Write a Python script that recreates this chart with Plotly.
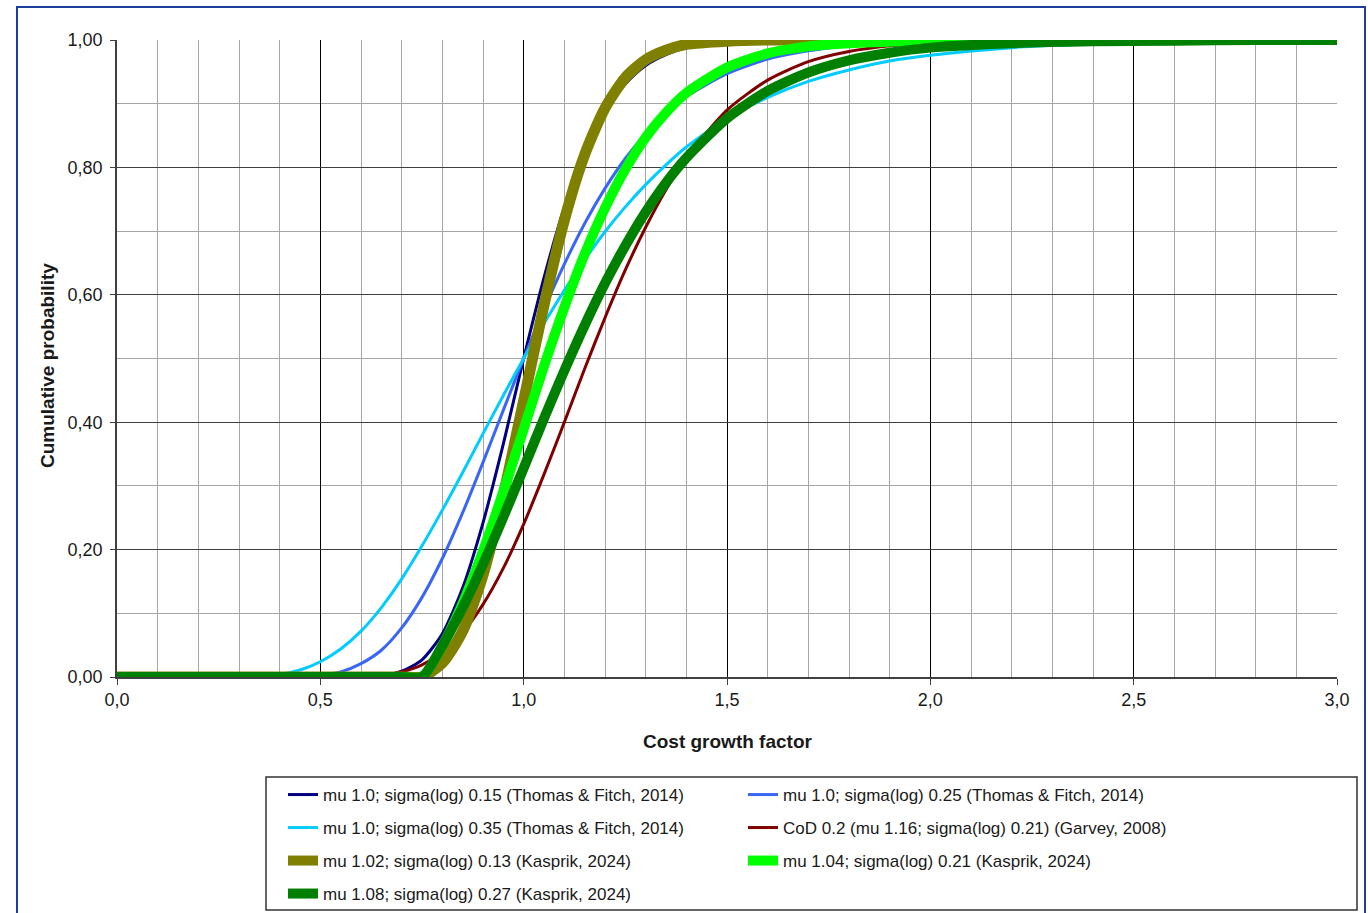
import plotly.graph_objects as go

# ---- data ----
x_thin = [0.0, 0.1, 0.2, 0.3, 0.4, 0.45, 0.5, 0.55, 0.6, 0.65, 0.7, 0.75, 0.8, 0.85, 0.9, 0.95,
          1.0, 1.05, 1.1, 1.15, 1.2, 1.25, 1.3, 1.35, 1.4, 1.5, 1.6, 1.7, 1.8, 1.9,
          2.0, 2.2, 2.4, 2.6, 2.8, 3.0]
y_tf015 = [0, 0, 0, 0, 0, 0, 0, 0, 0.0003, 0.002, 0.009, 0.027, 0.068, 0.140, 0.242, 0.366,
           0.5, 0.627, 0.737, 0.824, 0.888, 0.931, 0.960, 0.977, 0.988, 0.997, 0.999, 1.0, 1.0, 1.0,
           1.0, 1.0, 1.0, 1.0, 1.0, 1.0]
y_tf025 = [0, 0, 0, 0, 0, 0.0007, 0.003, 0.008, 0.021, 0.042, 0.077, 0.125, 0.186, 0.258, 0.337, 0.419,
           0.5, 0.577, 0.648, 0.712, 0.767, 0.814, 0.853, 0.885, 0.911, 0.947, 0.970, 0.983, 0.991, 0.995,
           0.997, 0.999, 1.0, 1.0, 1.0, 1.0]
y_tf035 = [0, 0, 0, 0.0003, 0.004, 0.011, 0.024, 0.044, 0.072, 0.109, 0.154, 0.206, 0.262, 0.321, 0.382, 0.442,
           0.5, 0.555, 0.607, 0.655, 0.699, 0.738, 0.773, 0.804, 0.832, 0.877, 0.910, 0.935, 0.953, 0.967,
           0.976, 0.988, 0.994, 0.997, 0.998, 0.999]
y_garvey = [0, 0, 0, 0, 0, 0, 0, 0.0002, 0.001, 0.003, 0.008, 0.019, 0.039, 0.070, 0.114, 0.171,
            0.240, 0.318, 0.400, 0.484, 0.564, 0.639, 0.706, 0.765, 0.815, 0.890, 0.937, 0.966, 0.982, 0.991,
            0.995, 0.999, 1.0, 1.0, 1.0, 1.0]

x_k013 = [0.0, 0.25, 0.5, 0.7, 0.75, 0.8, 0.85, 0.9, 0.95, 1.0, 1.05, 1.1, 1.15, 1.2, 1.25, 1.3, 1.35, 1.4,
          1.5, 1.6, 1.8, 2.0, 2.2]
y_k013 = [0, 0, 0, 0, 0, 0.022, 0.072, 0.160, 0.286, 0.434, 0.584, 0.717, 0.820, 0.893, 0.941, 0.969, 0.984, 0.993,
          0.998, 1.0, 1.0, 1.0, 1.0]

x_k021 = [0.0, 0.25, 0.5, 0.7, 0.75, 0.8, 0.85, 0.9, 0.95, 1.0, 1.05, 1.1, 1.15, 1.2, 1.25, 1.3, 1.35, 1.4,
          1.5, 1.6, 1.7, 1.8, 2.0, 2.2, 2.78]
y_k021 = [0, 0, 0, 0, 0, 0.049, 0.116, 0.198, 0.291, 0.389, 0.488, 0.580, 0.664, 0.736, 0.797, 0.847, 0.886, 0.917,
          0.957, 0.979, 0.990, 0.995, 0.999, 1.0, 1.0]

x_k027 = [0.0, 0.25, 0.5, 0.7, 0.75, 0.8, 0.85, 0.9, 0.95, 1.0, 1.05, 1.1, 1.15, 1.2, 1.25, 1.3, 1.35, 1.4,
          1.5, 1.6, 1.7, 1.8, 1.9, 2.0, 2.2, 2.4, 2.6, 2.8, 3.0]
y_k027 = [0, 0, 0, 0, 0, 0.049, 0.109, 0.177, 0.251, 0.328, 0.406, 0.481, 0.552, 0.618, 0.677, 0.730, 0.776, 0.815,
          0.877, 0.920, 0.949, 0.968, 0.980, 0.988, 0.995, 0.998, 0.999, 1.0, 1.0]

names = [
    "mu 1.0; sigma(log) 0.15 (Thomas & Fitch, 2014)",
    "mu 1.0; sigma(log) 0.25 (Thomas & Fitch, 2014)",
    "mu 1.0; sigma(log) 0.35 (Thomas & Fitch, 2014)",
    "CoD 0.2 (mu 1.16; sigma(log) 0.21) (Garvey, 2008)",
    "mu 1.02; sigma(log) 0.13 (Kasprik, 2024)",
    "mu 1.04; sigma(log) 0.21 (Kasprik, 2024)",
    "mu 1.08; sigma(log) 0.27 (Kasprik, 2024)",
]
colors = ["#000080", "#3a66f5", "#00ccff", "#800000", "#808000", "#00ff00", "#008000"]

series = [
    (x_thin, y_tf015, 3),
    (x_thin, y_tf025, 3),
    (x_thin, y_tf035, 3),
    (x_thin, y_garvey, 3),
    (x_k013, y_k013, 11),
    (x_k021, y_k021, 10),
    (x_k027, y_k027, 10),
]
legend_ids = ["legend", "legend", "legend2", "legend2", "legend3", "legend3", "legend4"]

# pixel helpers for paper placement
L, R, T, B = 117, 1337, 40, 677
W, H = 1368, 913
def px(xp):
    return (xp - L) / (R - L)
def py(yp):
    return (B - yp) / (B - T)

fig = go.Figure()
for (xs, ys, w), nm, c, lg in zip(series, names, colors, legend_ids):
    fig.add_trace(go.Scatter(
        x=xs, y=ys, name=nm, mode="lines", legend=lg,
        line=dict(color=c, width=w, shape="spline", smoothing=0.7),
        cliponaxis=False))

font_fam = "Liberation Sans, Arial, sans-serif"
leg_common = dict(orientation="h", entrywidth=415, entrywidthmode="pixels",
                  xanchor="left", yanchor="middle", x=px(283),
                  bgcolor="rgba(0,0,0,0)", borderwidth=0,
                  font=dict(family=font_fam, size=17, color="#1a1a1a"),
                  itemwidth=30, tracegroupgap=0)
row_y = [795, 828, 861, 894]

fig.update_layout(
    width=W, height=H,
    margin=dict(l=L, r=W - R, t=T, b=H - B, autoexpand=False),
    paper_bgcolor="white", plot_bgcolor="white",
    separators=", ",
    font=dict(family=font_fam, size=17, color="#1a1a1a"),
    legend=dict(**leg_common, y=py(row_y[0])),
    legend2=dict(**leg_common, y=py(row_y[1])),
    legend3=dict(**leg_common, y=py(row_y[2])),
    legend4=dict(**leg_common, y=py(row_y[3])),
    xaxis=dict(range=[0, 3], dtick=0.5, tick0=0, tickformat=".1f",
               showgrid=True, gridcolor="#000000", gridwidth=1,
               minor=dict(dtick=0.1, showgrid=True, gridcolor="#a6a6a6", gridwidth=1),
               showline=True, linecolor="#404040", linewidth=1.5,
               ticks="outside", ticklen=6, tickcolor="#404040",
               zeroline=False, tickfont=dict(size=18)),
    yaxis=dict(range=[0, 1], dtick=0.2, tick0=0, tickformat=".2f",
               showgrid=True, gridcolor="#404040", gridwidth=1.3,
               minor=dict(dtick=0.1, showgrid=True, gridcolor="#a6a6a6", gridwidth=1),
               showline=True, linecolor="#404040", linewidth=1.5,
               ticks="outside", ticklen=5, tickcolor="#404040",
               ticklabelstandoff=4,
               zeroline=False, tickfont=dict(size=18)),
    annotations=[
        dict(text="<b>Cost growth factor</b>", xref="paper", yref="paper",
             x=0.5, y=py(741), xanchor="center", yanchor="middle", showarrow=False,
             font=dict(size=19, family=font_fam, color="#1a1a1a")),
        dict(text="<b>Cumulative probability</b>", xref="paper", yref="paper",
             x=px(47), y=py(366), xanchor="center", yanchor="middle", showarrow=False,
             textangle=-90, font=dict(size=19, family=font_fam, color="#1a1a1a")),
    ],
    shapes=[
        dict(type="rect", xref="paper", yref="paper",
             x0=px(266), x1=px(1357), y0=py(910), y1=py(777),
             line=dict(color="#333333", width=1.5), fillcolor="rgba(0,0,0,0)", layer="above"),
        dict(type="rect", xref="paper", yref="paper",
             x0=px(17), x1=px(1365), y0=py(930), y1=py(7),
             line=dict(color="#1f3d9c", width=2), fillcolor="rgba(0,0,0,0)", layer="above"),
    ],
)

fig.write_html("out.html")
